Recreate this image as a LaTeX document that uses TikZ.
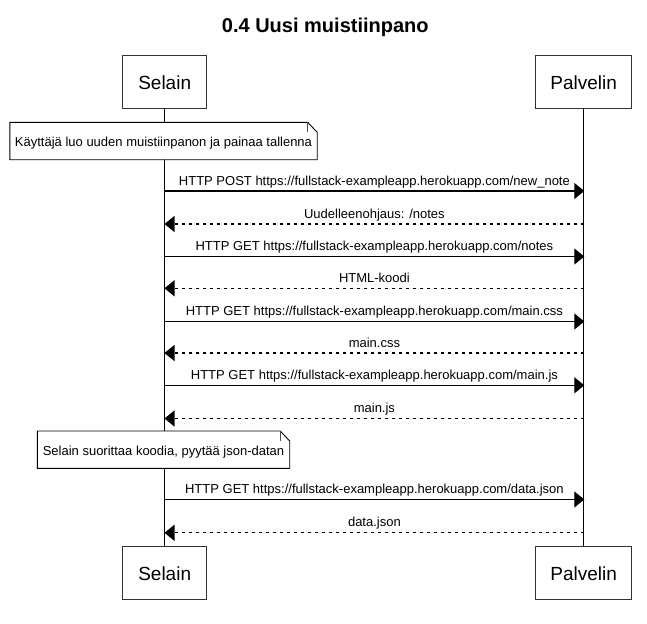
\documentclass[tikz,border=0pt]{standalone}
\usepackage{fontspec}
\setmainfont{Liberation Sans}
\usetikzlibrary{arrows.meta}
\begin{document}
\begin{tikzpicture}[x=1pt,y=-1pt,
  actor/.style={draw=black!80, line width=1pt, fill=white, inner sep=0pt,
    minimum height=53pt, font=\fontsize{19}{22}\selectfont,
    text height=16pt, text depth=0pt},
  notebox/.style={inner sep=0pt, font=\fontsize{13}{15}\selectfont,
    text height=11.2pt, text depth=0pt},
  notedraw/.style={draw=black, line width=0.9pt, fill=white},
  life/.style={draw=black, line width=1pt},
  msg/.style={line width=1.2pt, -{Triangle[length=10pt,width=16pt]}},
  reply/.style={msg, dash pattern=on 3.6pt off 3.4pt},
  lbl/.style={anchor=base, inner sep=0pt, yshift=6pt, font=\fontsize{13}{15}\selectfont}
]
\useasboundingbox (0,0) rectangle (647,623);

% title
\node[anchor=base, inner sep=0pt, font=\fontsize{20}{24}\selectfont\bfseries] (title) at (325.3,32.3) {0.4 Uusi muistiinpano};

% actors
\node[actor, minimum width=84pt] (selT) at (164.7,82) {Selain};
\node[actor, minimum width=96pt] (palT) at (583.7,82) {Palvelin};
\node[actor, minimum width=84pt] (selB) at (164.7,572.7) {Selain};
\node[actor, minimum width=96pt] (palB) at (583.7,572.7) {Palvelin};

% lifelines
\draw[life] (selT.south) -- (selB.north);
\draw[life] (palT.south) -- (palB.north);

% notes
\node[notebox, minimum width=307pt, minimum height=37pt] (n1) at (163.5,141) {Käyttäjä luo uuden muistiinpanon ja painaa tallenna};
\node[notebox, minimum width=252pt, minimum height=37pt] (n2) at (163.5,449.7) {Selain suorittaa koodia, pyytää json-datan};
\foreach \n in {n1,n2}{
  \draw[notedraw] (\n.south west) -- (\n.north west) -- ([xshift=-9.5pt]\n.north east)
     -- ([yshift=-10pt]\n.north east) -- (\n.south east) -- cycle;
  \draw[line width=0.8pt, draw=black!70] ([xshift=-9.5pt]\n.north east) -- ([xshift=-9.5pt,yshift=-10pt]\n.north east);
}
\node[notebox] at (n1) {Käyttäjä luo uuden muistiinpanon ja painaa tallenna};
\node[notebox] at (n2) {Selain suorittaa koodia, pyytää json-datan};

% message anchor points
\foreach \i/\y in {1/191,2/224,3/256.5,4/288.3,5/321.5,6/353,7/385.3,8/418.5,9/499.5,10/532.8}{
  \coordinate (s\i) at (164.5,\y);
  \coordinate (p\i) at (584.3,\y);
}

\draw[msg] (s1) -- (p1) node[lbl, pos=0.5] {HTTP POST https://fullstack-exampleapp.herokuapp.com/new\_note};
\draw[reply] (p2) -- (s2) node[lbl, pos=0.5] {Uudelleenohjaus: /notes};
\draw[msg] (s3) -- (p3) node[lbl, pos=0.5] {HTTP GET https://fullstack-exampleapp.herokuapp.com/notes};
\draw[reply] (p4) -- (s4) node[lbl, pos=0.5] {HTML-koodi};
\draw[msg] (s5) -- (p5) node[lbl, pos=0.5] {HTTP GET https://fullstack-exampleapp.herokuapp.com/main.css};
\draw[reply] (p6) -- (s6) node[lbl, pos=0.5] {main.css};
\draw[msg] (s7) -- (p7) node[lbl, pos=0.5] {HTTP GET https://fullstack-exampleapp.herokuapp.com/main.js};
\draw[reply] (p8) -- (s8) node[lbl, pos=0.5] {main.js};
\draw[msg] (s9) -- (p9) node[lbl, pos=0.5] {HTTP GET https://fullstack-exampleapp.herokuapp.com/data.json};
\draw[reply] (p10) -- (s10) node[lbl, pos=0.5] {data.json};
\end{tikzpicture}
\end{document}
